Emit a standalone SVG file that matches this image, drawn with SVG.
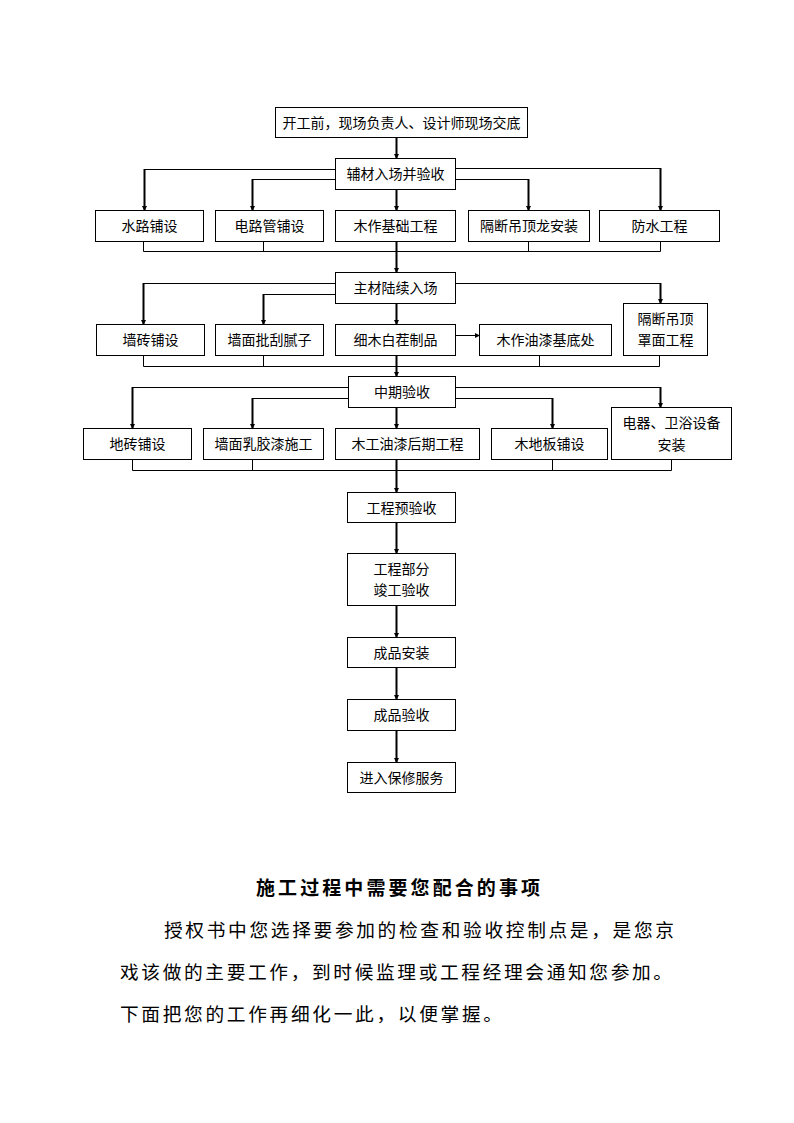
<svg xmlns="http://www.w3.org/2000/svg" width="794" height="1123" viewBox="0 0 794 1123">
<defs>
<marker id="ah" markerUnits="userSpaceOnUse" markerWidth="5" markerHeight="5" refX="4" refY="2.5" orient="auto">
<path d="M0,0 L5,2.5 L0,5 Z" fill="#000"/>
</marker>
<style>
.box{fill:#fff;stroke:#000;stroke-width:1}
.t{font-family:"Liberation Sans","Noto Sans CJK SC",sans-serif;font-size:14px;fill:#000;text-anchor:middle}
.thin{fill:none;stroke:#000;stroke-width:1}
.thick{fill:none;stroke:#000;stroke-width:2}
.arr{fill:none;stroke:#000;stroke-width:2;marker-end:url(#ah)}
.arr1{fill:none;stroke:#000;stroke-width:1;marker-end:url(#ah)}
.title{font-family:"Liberation Serif","Noto Sans CJK SC",serif;font-size:19px;font-weight:bold;fill:#000;text-anchor:middle}
.p{font-family:"Liberation Serif","Noto Sans CJK SC",serif;font-size:18.7px;fill:#000}
</style>
</defs>
<rect width="794" height="1123" fill="#fff"/>

<g id="connectors">
<path class="arr" d="M396.5,137.5 V158"/>
<path class="thin" d="M335,169.5 H144.5"/>
<path class="arr" d="M144.5,169 V210"/>
<path class="thin" d="M335,179.5 H252.5"/>
<path class="arr" d="M252.5,179 V210"/>
<path class="thin" d="M455,168.5 H660.5"/>
<path class="arr" d="M660.5,168 V210"/>
<path class="thin" d="M455,179.5 H528.5"/>
<path class="arr" d="M528.5,179 V210"/>
<path class="arr" d="M396.5,189 V210"/>
<path class="thin" d="M143.5,241 V251.5 H660.5 V241"/>
<path class="thin" d="M263.5,241 V251.5"/>
<path class="thin" d="M528.5,241 V251.5"/>
<path class="arr" d="M396.5,241 V272"/>
<path class="thin" d="M335,283.5 H143.5"/>
<path class="arr" d="M143.5,283 V324"/>
<path class="thin" d="M335,294.5 H263.5"/>
<path class="arr" d="M263.5,294 V324"/>
<path class="thin" d="M455,283.5 H660.5"/>
<path class="arr" d="M660.5,283 V303"/>
<path class="arr" d="M396.5,303 V324"/>
<path class="arr1" d="M455,335.5 H479"/>
<path class="thin" d="M143.5,355 V366.5 H659.5 V355"/>
<path class="thin" d="M263.5,355 V366.5"/>
<path class="thin" d="M539.5,355 V366.5"/>
<path class="arr" d="M396.5,355 V376"/>
<path class="thin" d="M348,387.5 H132.5"/>
<path class="arr" d="M132.5,387 V428"/>
<path class="thin" d="M348,398.5 H252.5"/>
<path class="arr" d="M252.5,398 V428"/>
<path class="thin" d="M455,387.5 H660.5"/>
<path class="arr" d="M660.5,387 V407"/>
<path class="thin" d="M455,398.5 H552.5"/>
<path class="arr" d="M552.5,398 V428"/>
<path class="arr" d="M396.5,407 V428"/>
<path class="thin" d="M132.5,459 V470.5 H671.5 V459"/>
<path class="thin" d="M252.5,459 V470.5"/>
<path class="thin" d="M552.5,459 V470.5"/>
<path class="arr" d="M396.5,459 V492"/>
<path class="arr" d="M396.5,522 V553"/>
<path class="arr" d="M396.5,605 V637"/>
<path class="arr" d="M396.5,667 V699"/>
<path class="arr" d="M396.5,730 V762"/>
</g>

<g id="n_start"><rect class="box" x="275.5" y="107.5" width="252" height="30"/><text class="t" x="401.5" y="127.5">开工前，现场负责人、设计师现场交底</text></g>
<g id="n_fucai"><rect class="box" x="335.5" y="158.5" width="120" height="31"/><text class="t" x="395.5" y="179">辅材入场并验收</text></g>

<g id="n_shuilu"><rect class="box" x="95.5" y="210.5" width="108" height="31"/><text class="t" x="149.5" y="231">水路铺设</text></g>
<g id="n_dianlu"><rect class="box" x="215.5" y="210.5" width="108" height="31"/><text class="t" x="269.5" y="231">电路管铺设</text></g>
<g id="n_muzuo"><rect class="box" x="335.5" y="210.5" width="120" height="31"/><text class="t" x="395.5" y="231">木作基础工程</text></g>
<g id="n_geduan1"><rect class="box" x="468.5" y="210.5" width="121" height="31"/><text class="t" x="529" y="231">隔断吊顶龙安装</text></g>
<g id="n_fangshui"><rect class="box" x="599.5" y="210.5" width="120" height="31"/><text class="t" x="659.5" y="231">防水工程</text></g>

<g id="n_zhucai"><rect class="box" x="335.5" y="272.5" width="120" height="31"/><text class="t" x="395.5" y="293">主材陆续入场</text></g>

<g id="n_qiangzhuan"><rect class="box" x="96.5" y="324.5" width="108" height="31"/><text class="t" x="150.5" y="345">墙砖铺设</text></g>
<g id="n_pigua"><rect class="box" x="215.5" y="324.5" width="108" height="31"/><text class="t" x="269.5" y="345">墙面批刮腻子</text></g>
<g id="n_ximu"><rect class="box" x="335.5" y="324.5" width="120" height="31"/><text class="t" x="395.5" y="345">细木白茬制品</text></g>
<g id="n_youqi1"><rect class="box" x="479.5" y="324.5" width="132" height="31"/><text class="t" x="545.5" y="345">木作油漆基底处</text></g>
<g id="n_geduan2"><rect class="box" x="623.5" y="303.5" width="84" height="52"/><text class="t" x="665.5" y="324">隔断吊顶</text><text class="t" x="665.5" y="345">罩面工程</text></g>

<g id="n_zhongqi"><rect class="box" x="348.5" y="376.5" width="107" height="31"/><text class="t" x="402" y="397">中期验收</text></g>

<g id="n_dizhuan"><rect class="box" x="83.5" y="428.5" width="108" height="31"/><text class="t" x="137.5" y="449">地砖铺设</text></g>
<g id="n_rujiao"><rect class="box" x="203.5" y="428.5" width="120" height="31"/><text class="t" x="263.5" y="449">墙面乳胶漆施工</text></g>
<g id="n_mugong"><rect class="box" x="335.5" y="428.5" width="144" height="31"/><text class="t" x="407.5" y="449">木工油漆后期工程</text></g>
<g id="n_mudiban"><rect class="box" x="491.5" y="428.5" width="116" height="31"/><text class="t" x="549.5" y="449">木地板铺设</text></g>
<g id="n_dianqi"><rect class="box" x="611.5" y="407.5" width="120" height="52"/><text class="t" x="671.5" y="428">电器、卫浴设备</text><text class="t" x="671.5" y="450">安装</text></g>

<g id="n_yuyanshou"><rect class="box" x="347.5" y="492.5" width="108" height="30"/><text class="t" x="401.5" y="512.5">工程预验收</text></g>
<g id="n_bufen"><rect class="box" x="347.5" y="553.5" width="108" height="52"/><text class="t" x="401.5" y="574">工程部分</text><text class="t" x="401.5" y="595">竣工验收</text></g>
<g id="n_anzhuang"><rect class="box" x="347.5" y="637.5" width="108" height="30"/><text class="t" x="401.5" y="657.5">成品安装</text></g>
<g id="n_yanshou"><rect class="box" x="347.5" y="699.5" width="108" height="31"/><text class="t" x="401.5" y="720">成品验收</text></g>
<g id="n_baoxiu"><rect class="box" x="347.5" y="762.5" width="108" height="30"/><text class="t" x="401.5" y="782.5">进入保修服务</text></g>

<g id="notes">
<text class="title" x="398" y="895" textLength="284" lengthAdjust="spacing">施工过程中需要您配合的事项</text>
<text class="p" x="164" y="937" textLength="510" lengthAdjust="spacing">授权书中您选择要参加的检查和验收控制点是，是您京</text>
<text class="p" x="120" y="979" textLength="552" lengthAdjust="spacing">戏该做的主要工作，到时候监理或工程经理会通知您参加。</text>
<text class="p" x="120" y="1021" textLength="382" lengthAdjust="spacing">下面把您的工作再细化一此，以便掌握。</text>
</g>
</svg>
